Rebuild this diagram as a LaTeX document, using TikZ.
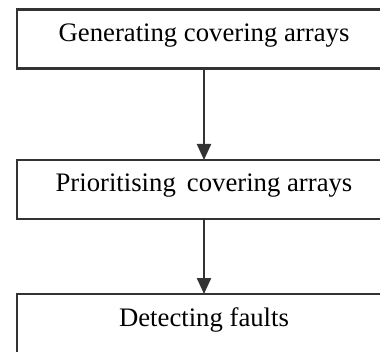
\documentclass[tikz,border=0pt]{standalone}
\usepackage{fontspec}
\setmainfont{Liberation Serif}
\usepackage{xcolor}
\usetikzlibrary{arrows.meta, positioning}

\definecolor{rahmen}{HTML}{333333}

\begin{document}
\begin{tikzpicture}[>={Triangle[length=0.8cm, width=0.7cm]}, font=\fontsize{38}{42}\selectfont]

    % --- 1. RAHMEN DES BILDES ---
    \clip (0,0) rectangle (19,17.55);
    \useasboundingbox (0,0) rectangle (19,17.55);

    % --- 2. STIL DER KAESTEN ---
    \tikzset{schritt/.style={draw=rahmen, line width=0.11cm, outer sep=0pt, inner sep=0pt,
        minimum width=18.7cm, minimum height=2.95cm, text height=0.9cm, text depth=0.65cm}}

    % --- 3. ABLAUF ---
    \node[schritt] (gen) at (10.2, 15.6) {Generating covering arrays};
    \node[schritt, below=4.575cm of gen] (prio) {Prioritising\, covering arrays};
    \node[schritt, below=3.75cm of prio] (detect) {Detecting faults};

    % --- 4. PFEILE ---
    \draw[->, line width=0.11cm, draw=rahmen, fill=black] (gen) -- (prio);
    \draw[->, line width=0.11cm, draw=rahmen, fill=black] (prio) -- (detect);

\end{tikzpicture}
\end{document}
